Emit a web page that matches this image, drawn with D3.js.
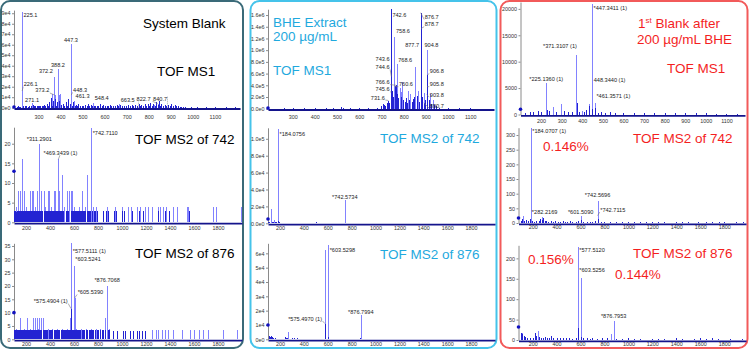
<!DOCTYPE html>
<html><head><meta charset="utf-8">
<script src="https://cdn.jsdelivr.net/npm/d3@7"></script>
<style>
body{margin:0;background:#fff;}
svg{display:block;font-family:"Liberation Sans",Arial,sans-serif;}
</style></head><body>
<svg id="c" width="750" height="350"></svg>
<script>
// ================= DATA =================
// tick values / labels
const xTicksMS1 = [300,400,500,600,700,800,900,1000,1100];
const xTicksMS1b = [200,300,400,500,600,700,800,900,1000,1100];
const xTicksMS2 = [200,400,600,800,1000,1200,1400,1600,1800];
const yTicksA1 = [0,1e4,2e4,3e4,4e4,5e4,6e4,7e4,8e4,9e4];
const yLabelsA1 = ["0e0","1e4","2e4","3e4","4e4","5e4","6e4","7e4","8e4","9e4"];
const yTicksA2 = [0,5,10,15,20];
const yLabelsA2 = ["0","5","10","15","20"];
const yTicksA3 = [0,5,10,15,20,25,30,35];
const yLabelsA3 = ["0","5","10","15","20","25","30","35"];
const yTicksB1 = [0,2e5,4e5,6e5,8e5,1e6,1.2e6,1.4e6,1.6e6];
const yLabelsB1 = ["0.0e0","2.0e5","4.0e5","6.0e5","8.0e5","1.0e6","1.2e6","1.4e6","1.6e6"];
const yTicksB2 = [0,2e4,4e4,6e4,8e4,1e5];
const yLabelsB2 = ["0.0e0","2.0e4","4.0e4","6.0e4","8.0e4","1.0e5"];
const yTicksB3 = [0,1e4,2e4,3e4,4e4,5e4,6e4];
const yLabelsB3 = ["0e0","1e4","2e4","3e4","4e4","5e4","6e4"];
const yTicksC1 = [0,5000,10000,15000,20000];
const yLabelsC1 = ["0","5000","10000","15000","20000"];
const yTicksC2 = [0,50,100,150,200,250,300];
const yLabelsC2 = ["0","50","100","150","200","250","300"];
const yTicksC3 = [0,50,100,150,200];
const yLabelsC3 = ["0","50","100","150","200"];

// ---- System Blank, TOF MS1 ----
const A1_light = [[225.1,91300],[226.1,16000],[271.1,4500],[362.2,13500],[372.2,29000],[373.2,12000],[388.2,37000],[392.2,12000],[398.2,13000],[447.3,60500],[448.3,12000],[461.3,6500],[548.4,4500],[663.5,3500],[822.7,3000],[840.7,4000]];
const A1_dark = [[201,1000],[207,1200],[212,800],[218,1000],[232,1500],[238,1300],[245,1200],[251,1100],[258,1800],[265,1400],[274,2500],[279,1600],[283,1500],[292,1500],[297,1300],[303,1200],[309,1400],[315,2000],[320,1500],[326,3000],[331,1600],[337,4000],[343,1800],[349,5000],[355,9000],[361,2000],[368,6000],[375,8000],[379,2000],[383,5000],[395,6000],[400,1800],[404,3000],[412,4000],[418,1700],[427,5000],[431,1800],[436,8000],[442,4000],[452,1700],[458,5000],[465,1600],[470,3000],[476,1500],[481,4000],[488,1400],[496,2000],[503,1300],[511,2500],[518,1400],[526,3500],[531,1500],[537,3000],[545,1400],[553,2000],[558,1300],[564,2000],[572,1400],[579,3500],[586,1300],[594,2500],[601,1300],[609,2000],[616,1400],[624,3000],[631,1300],[639,2000],[646,1400],[654,2500],[661,1300],[669,3000],[678,1400],[687,2000],[696,1300],[707,2500],[714,1400],[722,3000],[729,1300],[737,2500],[745,1500],[757,3500],[762,1600],[767,3000],[775,1700],[782,4000],[789,1800],[797,3500],[803,1800],[807,4500],[813,1900],[819,4000],[827,2000],[834,5000],[840,2100],[846,6000],[851,1900],[857,4000],[864,1700],[872,3000],[880,1500],[887,2500],[895,1400],[902,3500],[910,1300],[917,3000],[925,1200],[932,2000],[940,900],[947,1000],[955,700],[965,600],[990,500],[1020,400],[1060,400],[1100,300],[1150,300],[1190,200]];
const A1_guides = [[750,6000],[884,11000]];
const A1_labels = [["225.1",225.1,86000,"start"],["226.1",226.1,20500,"start",226.1,16000],["271.1",271.1,5900,"middle"],["373.2",356,14500,"end",373.2,12000],["372.2",372.2,33000,"end"],["388.2",388.2,39000,"middle"],["447.3",447.3,62500,"middle"],["448.3",450,15000,"start",448.3,12000],["461.3",461.3,9500,"start"],["548.4",548.4,7000,"start"],["663.5",666,5500,"start"],["822.7",738,6500,"start"],["840.7",813,6500,"start",840.7,4000]];

// ---- System Blank, TOF MS2 of 742 ----
const A2_light = [[135,8],[152,8],[169,16],[183,8],[233,8],[250,8],[260,8],[289,8],[311.29,20],[322,8],[347,8],[383,8],[394,8],[430,8],[445,8],[469.34,16],[478,8],[497,12],[540,8],[560,8],[572,8],[585,8],[669,8],[711,12],[742.71,24],[115,4],[200,4],[275,4],[360,4],[410,4],[520,4],[600,4],[640,4],[690,4],[760,4],[780,4],[872,4],[942,4],[997,4],[1050,4],[1072,4],[1122,4],[1150,4],[1192,4],[1219,4],[1247,4],[1303,4],[1317,4],[1339,4],[1367,4],[1428,4],[1456,4],[1539,4],[1553,4],[1761,4],[1783,4],[1989,4]];
const A2_dark = [[102,3],[108,3],[114,2.5],[121,3],[127,3],[133,3],[140,3],[147,3],[154,3],[161,3],[168,3],[175,3],[182,3],[189,3],[196,3],[203,3],[210,3],[217,3],[224,3],[231,3],[238,3],[245,3],[252,3],[259,3],[266,3],[273,3],[280,3],[287,3],[294,3],[301,3],[308,3],[315,3],[322,3],[329,3],[336,3],[350,3],[357,3],[364,3],[371,3],[378,3],[385,3],[392,3],[399,3],[406,3],[420,3],[427,3],[434,3],[441,3],[448,3],[455,3],[462,3],[469,3],[476,3],[483,3],[490,3],[497,3],[504,3],[511,3],[532,3],[539,3],[546,3],[553,3],[574,3],[581,3],[588,3],[602,3],[609,3],[616,3],[623,3],[630,3],[644,3],[651,3],[658,3],[665,3],[672,3],[686,3],[693,3],[707,3],[714,3],[721,3],[735,3],[749,3],[763,3],[777,3],[791,3],[845,3],[868,3],[880,3],[935,3],[950,3],[1000,3],[1020,3],[1080,3],[1140,3],[1175,3],[1300,3],[1360,3],[1395,3],[1560,3]];
const A2_labels = [["*311.2901",311.29,20.6,"middle"],["*469.3439 (1)",487,17.2,"middle",469.34,16],["*742.7110",742.71,22.3,"start"]];

// ---- System Blank, TOF MS2 of 876 ----
const A3_light = [[577.51,36],[603.52,27.5],[605.54,15.5],[876.71,20],[150,8],[205,8],[261,8],[275,8],[289,8],[311,8],[322,8],[344,8],[858,8],[570,8],[118,4],[180,4],[230,4],[300,4],[380,4],[420,4],[460,4],[500,4],[540,4],[620,4],[660,4],[700,4],[740,4],[780,4],[820,4],[890,4],[1247,3.5],[1283,3.5],[1303,3.5],[1331,3.5],[1358,3.5],[1386,3.5],[1428,3.5],[1497,3.5],[1567,3.5],[1600,3.5],[1644,3.5],[1678,3.5],[1719,3.5],[1844,3.5],[1956,3.5]];
const A3_dark = [[575.49,11.5],[103,3.5],[110,3.5],[117,3.5],[124,3.5],[131,3.5],[138,3.5],[145,3.5],[152,3.5],[159,3.5],[166,3.5],[173,3.5],[180,3.5],[187,3.5],[194,3.5],[201,3.5],[208,3.5],[215,3.5],[222,3.5],[229,3.5],[236,3.5],[243,3.5],[250,3.5],[257,3.5],[264,3.5],[271,3.5],[278,3.5],[285,3.5],[292,3.5],[299,3.5],[306,3.5],[313,3.5],[320,3.5],[327,3.5],[341,3.5],[348,3.5],[355,3.5],[362,3.5],[369,3.5],[376,3.5],[390,3.5],[397,3.5],[404,3.5],[411,3.5],[418,3.5],[432,3.5],[439,3.5],[446,3.5],[453,3.5],[460,3.5],[467,3.5],[474,3.5],[488,3.5],[495,3.5],[502,3.5],[509,3.5],[516,3.5],[523,3.5],[530,3.5],[537,3.5],[544,3.5],[551,3.5],[558,3.5],[565,3.5],[572,3.5],[586,3.5],[593,3.5],[600,3.5],[607,3.5],[614,3.5],[621,3.5],[635,3.5],[642,3.5],[649,3.5],[663,3.5],[670,3.5],[677,3.5],[684,3.5],[698,3.5],[705,3.5],[712,3.5],[726,3.5],[733,3.5],[740,3.5],[754,3.5],[761,3.5],[775,3.5],[789,3.5],[803,3.5],[817,3.5],[831,3.5],[845,3.5],[862,3.5],[880,3.5],[895,3.5],[928,3],[961,3],[1006,3],[1025,3],[1067,3],[1089,3],[1122,3],[1144,3],[1164,3],[1195,3]];
const A3_labels = [["*577.5111 (1)",577.51,32.4,"start"],["*603.5241",598,29.5,"start"],["*605.5390",618,17,"start",605.54,15.5],["*575.4904 (1)",560,13.6,"end",575.49,11.5],["*876.7068",876.71,21.5,"middle"]];

// ---- BHE Extract, TOF MS1 ----
const B1_light = [[758.6,1.22e6],[768.6,7.6e5],[782.6,3.5e5],[786.6,2.8e5],[794.6,4.5e5],[820.6,3.0e5],[830.6,2.5e5],[852.6,7.2e5],[866.7,3.0e5],[892.7,2.6e5],[904.8,1.0e6],[918.8,2.5e5],[930.8,1.5e5]];
const B1_dark = [[742.6,1.70e6],[743.6,7.8e5],[744.6,5.5e5],[745.6,3.0e5],[731.6,1.4e5],[760.6,3.8e5],[766.6,4.0e5],[876.7,1.64e6],[878.7,1.37e6],[877.7,9.9e5],[890.7,1.0e5],[903.8,2.4e5],[905.8,3.8e5],[906.8,5.8e5],[700,5e4],[705,8e4],[712,6e4],[718,4e4],[725,9e4],[735,1.0e5],[750,1.5e5],[754,2.0e5],[772,2.5e5],[776,1.8e5],[790,2.0e5],[798,1.5e5],[804,1.2e5],[810,1.8e5],[816,1.0e5],[825,1.5e5],[836,1.2e5],[842,1.6e5],[848,2.0e5],[858,1.5e5],[862,2.2e5],[870,1.2e5],[884,2.0e5],[896,1.5e5],[912,1.5e5],[922,8e4],[935,6e4],[945,4e4],[520,3e4],[525,1.5e4],[260,1e4],[300,8e3],[350,6e3],[400,1.2e4],[450,8e3],[480,6e3],[560,8e3],[600,6e3],[640,8e3],[680,1.5e4],[960,2e4],[1000,8e3],[1050,5e3],[1100,5e3]];
const B1_labels = [["742.6",742.6,1.57e6,"start"],["758.6",758.6,1.3e6,"start"],["743.6",743.6,8.2e5,"end"],["744.6",743.6,6.8e5,"end",744.6,5.5e5],["768.6",768.6,7.95e5,"start"],["766.6",743.6,4.2e5,"end",766.6,4.0e5],["760.6",772,3.84e5,"start",760.6,3.8e5],["745.6",743.6,2.94e5,"end",745.6,2.9e5],["731.6",722,1.57e5,"end",731.6,1.4e5],["876.7",888,1.534e6,"start",876.7,1.64e6],["878.7",888,1.41e6,"start",878.7,1.37e6],["877.7",876.5,1.05e6,"end"],["904.8",887,1.06e6,"start"],["906.8",911,6.07e5,"start",906.8,5.8e5],["905.8",911,3.84e5,"start",905.8,3.8e5],["903.8",911,2.08e5,"start",903.8,2.4e5],["890.7",911,1.5e4,"start",890.7,1.0e5]];

// ---- BHE Extract, TOF MS2 of 742 ----
const B2_light = [[184.0756,1.12e5],[125,1.75e4],[742.5734,2.7e4],[148,3500]];
const B2_dark = [[104,1500],[110,1200],[130,2000],[140,1500],[155,1000],[170,1500],[180,2500],[190,1200],[200,800],[230,400],[260,500],[300,400],[350,300],[400,400],[450,300],[500,1200],[510,600],[560,400],[600,300],[640,500],[700,400],[740,900],[760,300],[800,200],[900,200],[1000,300],[1100,200],[1300,200],[1500,200],[1560,500],[1700,200],[1900,200]];
const B2_labels = [["*184.0756",184.08,1.03e5,"start"],["*742.5734",742.57,2.89e4,"middle"]];

// ---- BHE Extract, TOF MS2 of 876 ----
const B3_light = [[577.5,6.2e4],[603.53,6.55e4],[876.8,1.7e4],[265,5000],[867,1000],[112,2500],[122,2000]];
const B3_dark = [[575.497,1.1e4],[578.5,6000],[573,1500],[602,1500],[106,2200],[118,1800],[128,2000],[135,1500],[145,1000],[160,800],[175,500],[200,400],[245,1500],[250,800],[262,1000],[300,800],[320,1200],[340,900],[380,300],[450,300],[500,300],[550,400],[620,400],[700,300],[800,300],[870,700],[900,300],[1000,200],[1200,200],[1400,200],[1600,200],[1800,200]];
const B3_labels = [["*603.5298",603.53,6.08e4,"start"],["*575.4970 (1)",565,1.31e4,"end",575.497,1.1e4],["*876.7994",876.8,1.8e4,"middle"]];

// ---- 1st Blank after BHE, TOF MS1 ----
const C1_light = [[225.136,5900],[371.31,11300],[447.34,21000],[448.344,5400],[461.357,2100],[259,1400],[295,1900],[434,2000],[397,700]];
const C1_dark = [[372.31,2200],[229,900],[431,1600],[186,700],[146,500],[534,400],[120,300],[160,400],[200,500],[240,600],[270,500],[310,600],[330,400],[350,500],[385,400],[410,500],[420,900],[449,1000],[462,1200],[475,300],[490,400],[510,300],[560,300],[600,250],[650,200],[700,200],[750,250],[800,200],[850,200],[900,250],[950,200],[1000,200],[1050,150],[1100,150],[1150,150]];
const C1_labels = [["*447.3411 (1)",447.34,19700,"start"],["*371.3107 (1)",381,12600,"end"],["*225.1360 (1)",225.14,6250,"middle"],["448.3440 (1)",448.34,6100,"start"],["*461.3571 (1)",461.36,3100,"start"]];

// ---- 1st Blank after BHE, TOF MS2 of 742 ----
const C2_light = [[184.07,323],[122,25],[742.57,75],[601.51,25],[282.22,21]];
const C2_dark = [[100,8],[110,12],[130,6],[145,10],[160,6],[175,12],[195,6],[210,5],[230,6],[250,8],[265,15],[275,10],[290,18],[300,8],[315,6],[330,5],[350,7],[370,5],[390,6],[410,4],[430,5],[450,6],[470,4],[490,5],[510,6],[530,4],[560,5],[580,6],[600,10],[620,5],[650,4],[680,5],[700,4],[720,6],[745,12],[770,4],[800,3],[850,4],[900,3],[950,4],[1000,3],[1050,3],[1100,4],[1150,3],[1200,3],[1250,3],[1300,4],[1400,3],[1450,3],[1500,3],[1580,4],[1650,3],[1700,3],[1760,5],[1800,3],[1900,3],[1960,4]];
const C2_labels = [["*184.0707 (1)",184.07,307,"start"],["*282.2169",300,31,"middle"],["*601.5090",601.51,31,"middle"],["*742.5696",742.57,88,"middle"],["*742.7115",752,39,"start",742.71,25]];

// ---- 1st Blank after BHE, TOF MS2 of 876 ----
const C3_light = [[577.51,229],[603.53,151],[876.80,47],[855,14],[108,18],[244,22]];
const C3_dark = [[575.5,30],[100,18],[115,15],[125,10],[140,8],[150,6],[175,5],[200,4],[217,18],[230,10],[255,8],[270,6],[290,5],[305,8],[320,5],[340,6],[355,10],[370,5],[400,4],[430,5],[450,4],[480,5],[500,4],[530,3],[560,5],[600,8],[620,5],[650,4],[680,3],[700,4],[740,3],[780,4],[820,5],[900,3],[950,3],[1000,4],[1050,3],[1100,3],[1200,3],[1250,3],[1300,3],[1400,4],[1450,3],[1550,3],[1600,4],[1650,3],[1700,4],[1750,3],[1850,3],[1950,3]];
const C3_labels = [["*577.5120",577.51,215,"start"],["*603.5256",577.51,166,"start"],["*876.7953",876.8,53,"middle"]];

// y-axis marker levels (blue dots), one per plot
const markerLevels = [600,13,10,1e4,5000,1e4,1000,17,32];

// ================= LAYOUT =================
const panels = [
  {x:1, y:1, w:242, h:347, color:"#3a6a78"},
  {x:250.5, y:1, w:246, h:347, color:"#45c3ea"},
  {x:500.5, y:1, w:247, h:347, color:"#f25a5a"}
];
const plots = [
  {light:A1_light, dark:A1_dark, labels:A1_labels, guides:A1_guides, xd:[189,1214], yd:[0,93000], l:14, r:240, t:10.1, b:107.7, xt:xTicksMS1, yt:yTicksA1, yl:yLabelsA1, lb:11.3},
  {light:A2_light, dark:A2_dark, labels:A2_labels, xd:[100,2000], yd:[0,24.2], l:14, r:242, t:127.2, b:222.3, xt:xTicksMS2, yt:yTicksA2, yl:yLabelsA2, lb:7.7},
  {light:A3_light, dark:A3_dark, labels:A3_labels, xd:[100,2000], yd:[0,36], l:14, r:242, t:243.3, b:339.3, xt:xTicksMS2, yt:yTicksA3, yl:yLabelsA3, lb:6.7},
  {light:B1_light, dark:B1_dark, labels:B1_labels, xd:[189,1207], yd:[0,1.7e6], l:268, r:494, t:9.2, b:108.7, xt:xTicksMS1, yt:yTicksB1, yl:yLabelsB1, lb:10},
  {light:B2_light, dark:B2_dark, labels:B2_labels, xd:[100,2000], yd:[0,1.13e5], l:268, r:495, t:127.8, b:223.3, xt:xTicksMS2, yt:yTicksB2, yl:yLabelsB2, lb:7},
  {light:B3_light, dark:B3_dark, labels:B3_labels, xd:[100,2000], yd:[0,6.7e4], l:268, r:495, t:243.3, b:339.3, xt:xTicksMS2, yt:yTicksB3, yl:yLabelsB3, lb:6.7},
  {light:C1_light, dark:C1_dark, labels:C1_labels, xd:[100,1190], yd:[0,21300], l:520.5, r:745, t:2, b:114.5, xt:xTicksMS1b, yt:yTicksC1, yl:yLabelsC1, lb:8.5},
  {light:C2_light, dark:C2_dark, labels:C2_labels, xd:[82,1982], yd:[0,325], l:518.5, r:746, t:127.7, b:223, xt:xTicksMS2, yt:yTicksC2, yl:yLabelsC2, lb:6.3},
  {light:C3_light, dark:C3_dark, labels:C3_labels, xd:[82,1982], yd:[0,232], l:518.5, r:746, t:245.3, b:340, xt:xTicksMS2, yt:yTicksC3, yl:yLabelsC3, lb:6.3}
];
const CYAN = "#1fa9de", RED = "#f41f1f";
const titles = [
  {t:"System Blank", x:143, y:27.5, c:"#000"},
  {t:"TOF MS1", x:157, y:75.6, c:"#000"},
  {t:"TOF MS2 of 742", x:135, y:144, c:"#000"},
  {t:"TOF MS2 of 876", x:135, y:258, c:"#000"},
  {t:"BHE Extract", x:273, y:27.2, c:CYAN},
  {t:"200 µg/mL", x:273, y:41, c:CYAN},
  {t:"TOF MS1", x:273, y:75, c:CYAN},
  {t:"TOF MS2 of 742", x:380, y:143, c:CYAN},
  {t:"TOF MS2 of 876", x:380, y:259, c:CYAN},
  {t:"200 µg/mL BHE", x:637, y:44, c:RED},
  {t:"TOF MS1", x:667, y:73, c:RED},
  {t:"TOF MS2 of 742", x:633, y:143, c:RED},
  {t:"0.146%", x:543, y:151, c:RED},
  {t:"TOF MS2 of 876", x:633, y:258, c:RED},
  {t:"0.156%", x:528, y:264, c:RED},
  {t:"0.144%", x:615, y:279, c:RED}
];

// ================= DRAW =================
const svg = d3.select("#c");
svg.append("rect").attr("width",750).attr("height",350).attr("fill","#fff");

panels.forEach(p=>{
  svg.append("rect").attr("x",p.x).attr("y",p.y).attr("width",p.w).attr("height",p.h)
    .attr("rx",9).attr("fill","none").attr("stroke",p.color).attr("stroke-width",2);
});

const LIGHT = "#8282ff", DARK = "#2323d2";

plots.forEach((p,i)=>{
  const x = d3.scaleLinear().domain(p.xd).range([p.l,p.r]);
  const y = d3.scaleLinear().domain(p.yd).range([p.b,p.t]);
  const g = svg.append("g");
  const px = v => Math.round(x(v))+0.5;

  // y axis
  const ya = g.append("g").attr("transform",`translate(${p.l},0)`)
    .call(d3.axisLeft(y).tickValues(p.yt).tickFormat((d,k)=>p.yl[k]).tickSize(2).tickSizeOuter(0).tickPadding(1.5));
  ya.select(".domain").attr("stroke","#8a8a8a").attr("stroke-width",1);
  ya.selectAll(".tick line").attr("stroke","#8a8a8a");
  ya.selectAll("text").attr("font-size",5.4).attr("fill","#333").attr("font-family","Liberation Sans, Arial, sans-serif");

  // guides (dotted)
  if (p.guides) p.guides.forEach(d=>{
    g.append("line").attr("x1",px(d[0])).attr("x2",px(d[0])).attr("y1",y(0)+2).attr("y2",y(d[1]))
      .attr("stroke","#999").attr("stroke-dasharray","1,1").attr("stroke-width",0.8);
  });

  // bars
  g.append("g").selectAll("line").data(p.light).join("line")
    .attr("x1",d=>px(d[0])).attr("x2",d=>px(d[0])).attr("y1",y(0)).attr("y2",d=>y(d[1]))
    .attr("stroke",LIGHT).attr("stroke-width",1).attr("shape-rendering","crispEdges");
  g.append("g").selectAll("line").data(p.dark).join("line")
    .attr("x1",d=>px(d[0])).attr("x2",d=>px(d[0])).attr("y1",y(0)).attr("y2",d=>y(d[1]))
    .attr("stroke",DARK).attr("stroke-width",1).attr("shape-rendering","crispEdges");

  // x axis
  const xa = g.append("g").attr("transform",`translate(0,${y(0)+0.8})`)
    .call(d3.axisBottom(x).tickValues(p.xt).tickFormat(d3.format("d")).tickSize(0).tickSizeOuter(0).tickPadding(p.lb-4.6));
  xa.select(".domain").attr("stroke","#14148c").attr("stroke-width",1.8);
  xa.selectAll("text").attr("font-size",5.4).attr("fill","#333").attr("font-family","Liberation Sans, Arial, sans-serif");

  // marker dot on y axis
  g.append("circle").attr("cx",p.l).attr("cy",y(markerLevels[i])).attr("r",1.8).attr("fill","#1010c0");

  // peak labels
  p.labels.forEach(L=>{
    const [txt,mz,v,anc,pm,pv] = L;
    const lx = x(mz) + (anc==="start"?1.5:anc==="end"?-1.5:0);
    const ly = y(v);
    if (pm!==undefined){
      g.append("line").attr("x1",anc==="end"?lx+0.5:lx-0.5).attr("y1",ly+0.5)
        .attr("x2",x(pm)).attr("y2",y(pv)).attr("stroke","#777").attr("stroke-width",0.6);
    }
    g.append("text").attr("x",lx).attr("y",ly).attr("text-anchor",anc)
      .attr("font-size",5.6).attr("fill","#222").text(txt);
  });
});

// titles
titles.forEach(t=>{
  svg.append("text").attr("x",t.x).attr("y",t.y).attr("fill",t.c)
    .attr("font-size",13.5).text(t.t);
});
// "1st Blank after" with superscript
const sup = svg.append("text").attr("x",638).attr("y",28).attr("fill",RED).attr("font-size",13.5);
sup.append("tspan").text("1");
sup.append("tspan").attr("font-size",8).attr("dy",-5).text("st");
sup.append("tspan").attr("dy",5).text(" Blank after");
</script>
</body></html>
